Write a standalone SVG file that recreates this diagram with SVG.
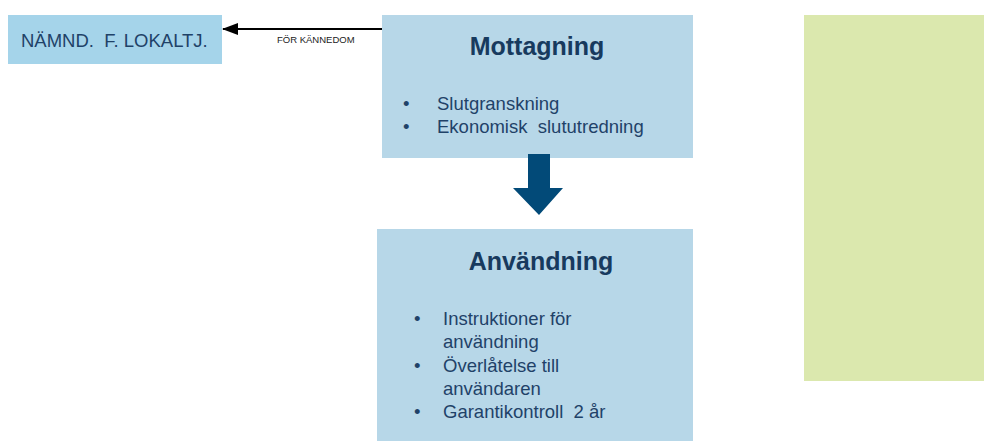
<svg xmlns="http://www.w3.org/2000/svg" width="984" height="441" viewBox="0 0 984 441">
<style>
.box{fill:#b7d7e8}
.title{font-family:"Liberation Sans",Arial,sans-serif;font-weight:bold;font-size:25px;fill:#173a5e;text-anchor:middle}
.item{font-family:"Liberation Sans",Arial,sans-serif;font-size:18.5px;fill:#1f4268}
.lbl{font-family:"Liberation Sans",Arial,sans-serif;font-size:9.5px;fill:#222}
</style>
<defs>
<marker id="ah" markerWidth="16" markerHeight="12" refX="15" refY="6" orient="auto" markerUnits="userSpaceOnUse">
<path d="M0,0 L16,6 L0,12 Z" fill="#000"/>
</marker>
</defs>
<rect width="984" height="441" fill="#fff"/>
<g id="namnd">
<rect x="8" y="15" width="214" height="49" fill="#a5d4ea"/>
<text x="21" y="47" style="font-family:'Liberation Sans',Arial,sans-serif;font-size:18.5px;fill:#1f4268;white-space:pre" xml:space="preserve">NÄMND.  F. LOKALTJ.</text>
</g>
<g id="mottagning">
<rect class="box" x="382" y="15" width="311" height="143"/>
<text class="title" x="537" y="55">Mottagning</text>
<text class="item" x="403" y="110">•</text>
<text class="item" x="437" y="110">Slutgranskning</text>
<text class="item" x="403" y="133">•</text>
<text class="item" x="437" y="133" xml:space="preserve" style="white-space:pre">Ekonomisk  slututredning</text>
</g>
<g id="anvandning">
<rect class="box" x="377" y="229" width="316" height="212"/>
<text class="title" x="541" y="270">Användning</text>
<text class="item" x="414" y="325">•</text>
<text class="item" x="443" y="325">Instruktioner för</text>
<text class="item" x="443" y="348">användning</text>
<text class="item" x="414" y="372">•</text>
<text class="item" x="443" y="372">Överlåtelse till</text>
<text class="item" x="443" y="395">användaren</text>
<text class="item" x="414" y="418">•</text>
<text class="item" x="443" y="418" xml:space="preserve" style="white-space:pre">Garantikontroll  2 år</text>
</g>
<g id="green">
<rect x="804" y="15" width="180" height="366" fill="#dbe8ae"/>
</g>
<g id="connectors">
<line x1="382" y1="29" x2="223" y2="29" stroke="#000" stroke-width="2" marker-end="url(#ah)"/>
<text class="lbl" x="277" y="43">FÖR KÄNNEDOM</text>
<path d="M528,154 L550,154 L550,188 L563,188 L539,215 L513,188 L528,188 Z" fill="#024a78"/>
</g>
</svg>
